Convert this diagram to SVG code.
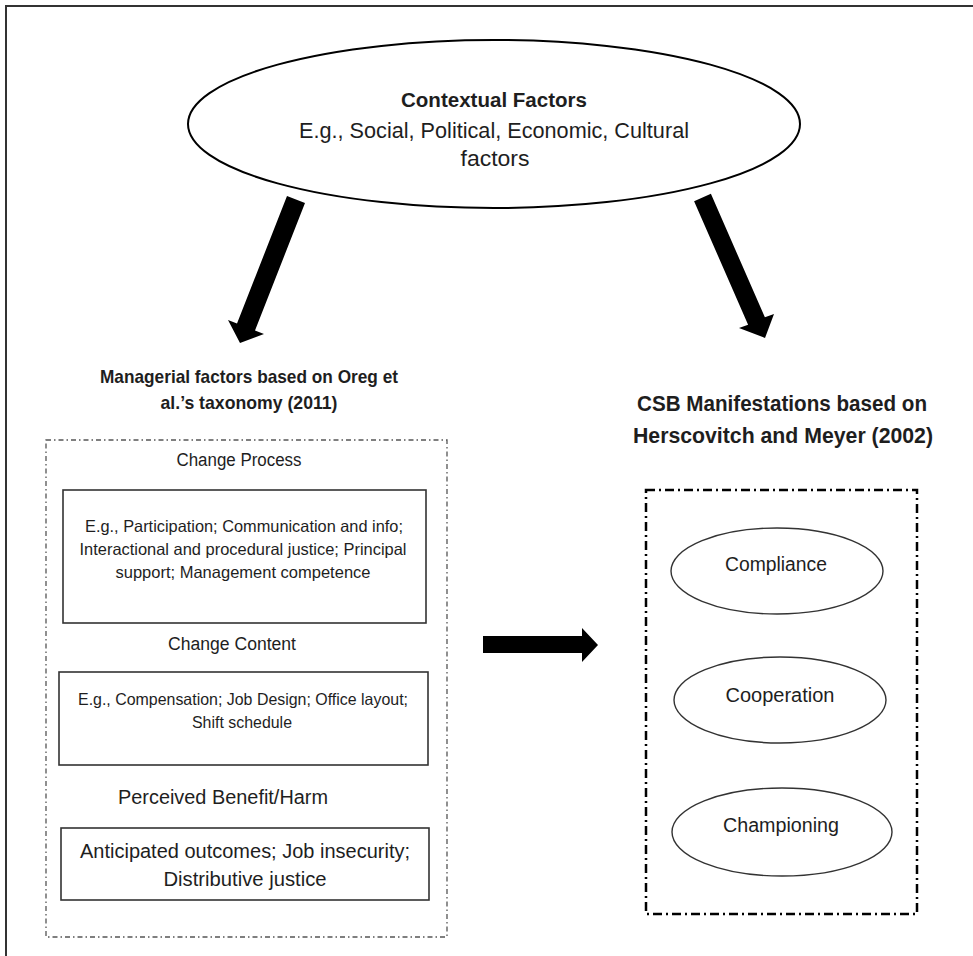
<svg xmlns="http://www.w3.org/2000/svg" width="973" height="956" viewBox="0 0 973 956">
<style>
text { font-family: "Liberation Sans", Arial, sans-serif; fill: #1e1e1e; text-anchor: middle; }
.b { font-weight: bold; }
.box { fill: none; stroke: #333; stroke-width: 1.6; }
.oval { fill: #fff; stroke: #333; stroke-width: 1.4; }
.arrow { fill: #000; stroke: none; }
</style>
<rect x="0" y="0" width="973" height="956" fill="#fff"/>
<g id="frame">
<path d="M6 956 V6 H973" fill="none" stroke="#333" stroke-width="2"/>
</g>
<g id="contextual">
<ellipse cx="494" cy="124" rx="306" ry="84" fill="#fff" stroke="#000" stroke-width="2"/>
<text class="b" x="494" y="107" font-size="20" textLength="186" lengthAdjust="spacingAndGlyphs">Contextual Factors</text>
<text x="494" y="138" font-size="21.5" textLength="390" lengthAdjust="spacingAndGlyphs">E.g., Social, Political, Economic, Cultural</text>
<text x="495" y="166" font-size="21.5" textLength="69" lengthAdjust="spacingAndGlyphs">factors</text>
</g>
<g id="connectors">
<polygon class="arrow" points="287,196 305,203 255,330.5 264,334 240,343 228,320 237,323.5"/>
<polygon class="arrow" points="694.1,201.2 710.9,193.8 764.9,317.3 774,314 765,338 739,328 748.1,324.7"/>
<polygon class="arrow" points="483,636 582,636 582,628 598,645 582,662 582,653 483,653"/>
</g>
<g id="managerial">
<text class="b" x="249" y="383" font-size="19" textLength="298" lengthAdjust="spacingAndGlyphs">Managerial factors based on Oreg et</text>
<text class="b" x="249" y="409" font-size="19" textLength="177" lengthAdjust="spacingAndGlyphs">al.’s taxonomy (2011)</text>
<rect x="46" y="440" width="401" height="497" fill="none" stroke="#555" stroke-width="1.3" stroke-dasharray="5,3,1.5,3"/>
</g>
<g id="change-process">
<text x="239" y="466" font-size="18" textLength="125" lengthAdjust="spacingAndGlyphs">Change Process</text>
<rect class="box" x="63" y="490" width="363" height="133"/>
<text x="244" y="532" font-size="16.5" textLength="318" lengthAdjust="spacingAndGlyphs">E.g., Participation; Communication and info;</text>
<text x="243" y="555" font-size="16.5" textLength="327" lengthAdjust="spacingAndGlyphs">Interactional and procedural justice; Principal</text>
<text x="243" y="578" font-size="16.5" textLength="255" lengthAdjust="spacingAndGlyphs">support; Management competence</text>
</g>
<g id="change-content">
<text x="232" y="650" font-size="18" textLength="128" lengthAdjust="spacingAndGlyphs">Change Content</text>
<rect class="box" x="59" y="672" width="369" height="93"/>
<text x="243" y="705" font-size="16.5" textLength="330" lengthAdjust="spacingAndGlyphs">E.g., Compensation; Job Design; Office layout;</text>
<text x="242" y="728" font-size="16.5" textLength="100" lengthAdjust="spacingAndGlyphs">Shift schedule</text>
</g>
<g id="perceived">
<text x="223" y="804" font-size="20" textLength="210" lengthAdjust="spacingAndGlyphs">Perceived Benefit/Harm</text>
<rect class="box" x="61" y="828" width="368" height="72"/>
<text x="245" y="858" font-size="20" textLength="330" lengthAdjust="spacingAndGlyphs">Anticipated outcomes; Job insecurity;</text>
<text x="245" y="886" font-size="20" textLength="163" lengthAdjust="spacingAndGlyphs">Distributive justice</text>
</g>
<g id="csb">
<text class="b" x="782" y="411" font-size="22" textLength="290" lengthAdjust="spacingAndGlyphs">CSB Manifestations based on</text>
<text class="b" x="783" y="443" font-size="22" textLength="300" lengthAdjust="spacingAndGlyphs">Herscovitch and Meyer (2002)</text>
<rect x="646" y="490" width="271" height="424" fill="none" stroke="#000" stroke-width="2.5" stroke-dasharray="9,4,2,4"/>
</g>
<g id="compliance">
<ellipse class="oval" cx="777" cy="571" rx="106" ry="43"/>
<text x="776" y="571" font-size="20" textLength="102" lengthAdjust="spacingAndGlyphs">Compliance</text>
</g>
<g id="cooperation">
<ellipse class="oval" cx="780" cy="700" rx="106" ry="43"/>
<text x="780" y="702" font-size="20" textLength="109" lengthAdjust="spacingAndGlyphs">Cooperation</text>
</g>
<g id="championing">
<ellipse class="oval" cx="782" cy="832" rx="110" ry="44"/>
<text x="781" y="832" font-size="20" textLength="116" lengthAdjust="spacingAndGlyphs">Championing</text>
</g>
</svg>
